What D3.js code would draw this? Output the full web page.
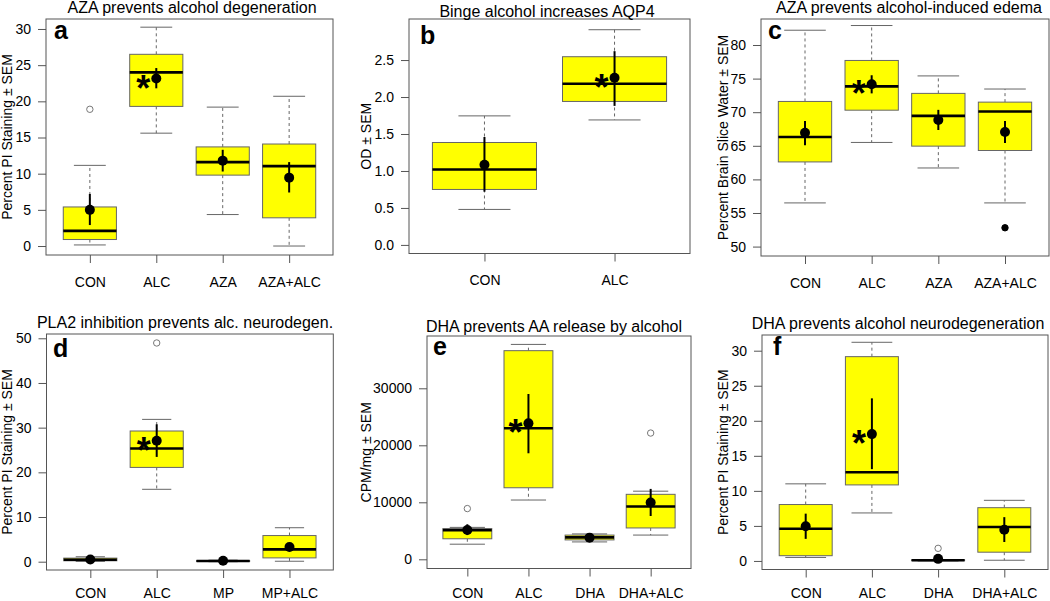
<!DOCTYPE html>
<html>
<head>
<meta charset="utf-8">
<script src="https://cdn.jsdelivr.net/npm/d3@7"></script>
<style>
  html, body { margin: 0; padding: 0; background: #ffffff; }
  svg { display: block; }
</style>
</head>
<body>
<svg id="chart" width="1050" height="601"></svg>
<script>
// ---------------- DATA ----------------
// Panel a: AZA prevents alcohol degeneration
const aCategories = ["CON", "ALC", "AZA", "AZA+ALC"];
const aLow    = [0.15, 15.6, 4.35, 0.0];
const aQ1     = [0.9, 19.3, 9.8, 3.9];
const aMedian = [2.1, 24.0, 11.6, 11.05];
const aQ3     = [5.4, 26.5, 13.7, 14.1];
const aHigh   = [11.15, 30.25, 19.2, 20.7];
const aMean   = [5.0, 23.15, 11.8, 9.45];
const aSemLo  = [2.9, 21.8, 10.3, 7.4];
const aSemHi  = [7.2, 24.6, 13.3, 11.6];
const aOutliers = [{cat: "CON", value: 18.9, filled: false}];
const aTicks  = [0, 5, 10, 15, 20, 25, 30];

// Panel b: Binge alcohol increases AQP4
const bCategories = ["CON", "ALC"];
const bLow    = [0.48, 1.69];
const bQ1     = [0.75, 1.94];
const bMedian = [1.02, 2.18];
const bQ3     = [1.385, 2.545];
const bHigh   = [1.745, 2.91];
const bMean   = [1.085, 2.26];
const bSemLo  = [0.72, 1.88];
const bSemHi  = [1.46, 2.62];
const bOutliers = [];
const bTicks  = [0, 0.5, 1.0, 1.5, 2.0, 2.5];

// Panel c: AZA prevents alcohol-induced edema
const cCategories = ["CON", "ALC", "AZA", "AZA+ALC"];
const cLow    = [56.5, 65.5, 61.7, 56.5];
const cQ1     = [62.6, 70.3, 64.95, 64.3];
const cMedian = [66.3, 73.85, 69.45, 70.1];
const cQ3     = [71.6, 77.7, 72.8, 71.5];
const cHigh   = [82.2, 82.9, 75.4, 73.45];
const cMean   = [66.95, 74.15, 68.85, 67.05];
const cSemLo  = [65.1, 72.8, 67.35, 65.4];
const cSemHi  = [68.7, 75.5, 70.35, 68.7];
const cOutliers = [{cat: "AZA+ALC", value: 52.8, filled: true}];
const cTicks  = [50, 55, 60, 65, 70, 75, 80];

// Panel d: PLA2 inhibition prevents alc. neurodegen.
const dCategories = ["CON", "ALC", "MP", "MP+ALC"];
const dLow    = [0.05, 16.2, 0.0, 0.1];
const dQ1     = [0.2, 21.1, 0.05, 0.85];
const dMedian = [0.45, 25.35, 0.15, 2.75];
const dQ3     = [0.8, 29.25, 0.25, 5.85];
const dHigh   = [1.1, 31.85, 0.35, 7.6];
const dMean   = [0.5, 27.05, 0.2, 3.3];
const dSemLo  = [0.3, 23.45, 0.1, 2.5];
const dSemHi  = [0.7, 30.75, 0.3, 4.1];
const dOutliers = [{cat: "ALC", value: 48.95, filled: false}];
const dTicks  = [0, 10, 20, 30, 40, 50];

// Panel e: DHA prevents AA release by alcohol
const eCategories = ["CON", "ALC", "DHA", "DHA+ALC"];
const eLow    = [2650, 10400, 3050, 4250];
const eQ1     = [3600, 12550, 3400, 5500];
const eMedian = [5100, 23000, 3850, 9250];
const eQ3     = [5400, 36600, 4250, 11400];
const eHigh   = [5600, 37700, 4450, 11950];
const eMean   = [5150, 23850, 3800, 9950];
const eSemLo  = [4250, 18600, 3500, 7600];
const eSemHi  = [6150, 29000, 4100, 12350];
const eOutliers = [{cat: "CON", value: 8900, filled: false}, {cat: "DHA+ALC", value: 22150, filled: false}];
const eTicks  = [0, 10000, 20000, 30000];

// Panel f: DHA prevents alcohol neurodegeneration
const fCategories = ["CON", "ALC", "DHA", "DHA+ALC"];
const fLow    = [0.5, 6.85, 0.0, 0.1];
const fQ1     = [0.75, 10.85, 0.05, 1.25];
const fMedian = [4.6, 12.65, 0.1, 4.85];
const fQ3     = [8.05, 29.15, 0.15, 7.6];
const fHigh   = [11.0, 31.2, 0.15, 8.65];
const fMean   = [4.95, 18.1, 0.3, 4.45];
const fSemLo  = [3.15, 13.1, 0.2, 2.7];
const fSemHi  = [6.75, 23.2, 0.4, 6.25];
const fOutliers = [{cat: "DHA", value: 1.8, filled: false}];
const fTicks  = [0, 5, 10, 15, 20, 25, 30];

const starCategory = "ALC";

// ---------------- LAYOUT / STYLE ----------------
const FONT = "'Liberation Sans', Arial, Helvetica, sans-serif";

function pack(cats, low, q1, med, q3, high, mean, semLo, semHi) {
  return cats.map((c, i) => ({cat: c, low: low[i], q1: q1[i], med: med[i], q3: q3[i],
    high: high[i], mean: mean[i], semLo: semLo[i], semHi: semHi[i]}));
}

const panels = [
  { letter: "a", title: "AZA prevents alcohol degeneration", ylabel: "Percent PI Staining \u00b1 SEM",
    cats: aCategories, rows: pack(aCategories, aLow, aQ1, aMedian, aQ3, aHigh, aMean, aSemLo, aSemHi),
    outliers: aOutliers, ticks: aTicks, fmt: d3.format("d"),
    left: 46, right: 333, top: 19, bottom: 255, yDomain: [-1.24, 31.38], xPad: 14,
    titleX: 192, titleY: 12.7, letterX: 54, letterY: 39, ylabX: 12, cap: 0.6 },
  { letter: "b", title: "Binge alcohol increases AQP4", ylabel: "OD \u00b1 SEM",
    cats: bCategories, rows: pack(bCategories, bLow, bQ1, bMedian, bQ3, bHigh, bMean, bSemLo, bSemHi),
    outliers: bOutliers, ticks: bTicks, fmt: d3.format(".1f"),
    left: 409, right: 690, top: 19, bottom: 253.5, yDomain: [-0.116, 3.055], xPad: 14,
    titleX: 547, titleY: 16.5, letterX: 420, letterY: 44, ylabX: 371, cap: 0.5 },
  { letter: "c", title: "AZA prevents alcohol-induced edema", ylabel: "Percent Brain Slice Water \u00b1 SEM",
    cats: cCategories, rows: pack(cCategories, cLow, cQ1, cMedian, cQ3, cHigh, cMean, cSemLo, cSemHi),
    outliers: cOutliers, ticks: cTicks, fmt: d3.format("d"),
    left: 761, right: 1049, top: 19, bottom: 256, yDomain: [48.6, 83.87], xPad: 14,
    titleX: 909, titleY: 12.7, letterX: 768, letterY: 39, ylabX: 728, cap: 0.78 },
  { letter: "d", title: "PLA2 inhibition prevents alc. neurodegen.", ylabel: "Percent PI Staining \u00b1 SEM",
    cats: dCategories, rows: pack(dCategories, dLow, dQ1, dMedian, dQ3, dHigh, dMean, dSemLo, dSemHi),
    outliers: dOutliers, ticks: dTicks, fmt: d3.format("d"),
    left: 46.5, right: 333.3, top: 334, bottom: 570, yDomain: [-1.86, 50.96], xPad: 10.5,
    titleX: 185, titleY: 327.5, letterX: 53, letterY: 357, ylabX: 12, cap: 0.55 },
  { letter: "e", title: "DHA prevents AA release by alcohol", ylabel: "CPM/mg \u00b1 SEM",
    cats: eCategories, rows: pack(eCategories, eLow, eQ1, eMedian, eQ3, eHigh, eMean, eSemLo, eSemHi),
    outliers: eOutliers, ticks: eTicks, fmt: d3.format("d"),
    left: 427, right: 691, top: 336, bottom: 568.5, yDomain: [-1614, 39175], xPad: 12,
    titleX: 554, titleY: 331.5, letterX: 433, letterY: 355, ylabX: 371, cap: 0.72 },
  { letter: "f", title: "DHA prevents alcohol neurodegeneration", ylabel: "Percent PI Staining \u00b1 SEM",
    cats: fCategories, rows: pack(fCategories, fLow, fQ1, fMedian, fQ3, fHigh, fMean, fSemLo, fSemHi),
    outliers: fOutliers, ticks: fTicks, fmt: d3.format("d"),
    left: 762, right: 1048, top: 335, bottom: 569.5, yDomain: [-1.22, 32.24], xPad: 11,
    titleX: 898, titleY: 329.3, letterX: 773, letterY: 355, ylabX: 728, cap: 0.77 }
];

const svg = d3.select("#chart");
const FRAME = "#555555";
const BOXLINE = "#666666";

function drawPanel(p) {
  const g = svg.append("g");
  const n = p.cats.length;
  const x = d3.scalePoint().domain(p.cats).range([p.left, p.right]).padding(0.5 + 0.04 * n);
  const y = d3.scaleLinear().domain(p.yDomain).range([p.bottom, p.top]);
  const step = x.step();
  const bw = 0.8 * step;
  const cw = p.cap * bw;

  // y axis
  const ya = g.append("g").attr("transform", `translate(${p.left},0)`)
    .call(d3.axisLeft(y).tickValues(p.ticks).tickFormat(p.fmt).tickSize(8).tickPadding(7));
  ya.select(".domain").remove();
  ya.selectAll("line").attr("stroke", FRAME);
  ya.selectAll("text").attr("font-family", FONT).attr("font-size", 14).attr("fill", "#000");

  // x axis
  const xa = g.append("g").attr("transform", `translate(0,${p.bottom})`)
    .call(d3.axisBottom(x).tickSize(8).tickPadding(p.xPad));
  xa.select(".domain").remove();
  xa.selectAll("line").attr("stroke", FRAME);
  xa.selectAll("text").attr("font-family", FONT).attr("font-size", 14).attr("fill", "#000");

  // boxes and whiskers
  const bx = g.append("g");
  p.rows.forEach(r => {
    const cx = x(r.cat);
    bx.append("line").attr("x1", cx).attr("x2", cx).attr("y1", y(r.q3)).attr("y2", y(r.high))
      .attr("stroke", BOXLINE).attr("stroke-dasharray", "3,3");
    bx.append("line").attr("x1", cx).attr("x2", cx).attr("y1", y(r.q1)).attr("y2", y(r.low))
      .attr("stroke", BOXLINE).attr("stroke-dasharray", "3,3");
    bx.append("line").attr("x1", cx - cw / 2).attr("x2", cx + cw / 2).attr("y1", y(r.high)).attr("y2", y(r.high))
      .attr("stroke", BOXLINE);
    bx.append("line").attr("x1", cx - cw / 2).attr("x2", cx + cw / 2).attr("y1", y(r.low)).attr("y2", y(r.low))
      .attr("stroke", BOXLINE);
    bx.append("rect").attr("x", cx - bw / 2).attr("width", bw)
      .attr("y", y(r.q3)).attr("height", Math.max(0.5, y(r.q1) - y(r.q3)))
      .attr("fill", "#ffff00").attr("stroke", BOXLINE).attr("stroke-width", 1);
    bx.append("line").attr("x1", cx - bw / 2).attr("x2", cx + bw / 2).attr("y1", y(r.med)).attr("y2", y(r.med))
      .attr("stroke", "#000").attr("stroke-width", 2.6);
  });

  // outliers
  g.selectAll(".outlier").data(p.outliers).enter().append("circle")
    .attr("cx", d => x(d.cat)).attr("cy", d => y(d.value))
    .attr("r", 3.2)
    .attr("fill", d => d.filled ? "#000" : "#fff")
    .attr("stroke", d => d.filled ? "#000" : "#777")
    .attr("stroke-width", 1);

  // SEM bars and means
  g.selectAll(".sem").data(p.rows).enter().append("line")
    .attr("x1", d => x(d.cat)).attr("x2", d => x(d.cat))
    .attr("y1", d => y(d.semLo)).attr("y2", d => y(d.semHi))
    .attr("stroke", "#000").attr("stroke-width", 2);
  g.selectAll(".mean").data(p.rows).enter().append("circle")
    .attr("cx", d => x(d.cat)).attr("cy", d => y(d.mean)).attr("r", 5)
    .attr("fill", "#000");

  // significance star
  const sr = p.rows.find(r => r.cat === starCategory);
  if (sr) {
    g.append("text").attr("x", x(sr.cat) - 13).attr("y", y(sr.mean) + 22)
      .attr("text-anchor", "middle").attr("font-family", FONT).attr("font-weight", "bold")
      .attr("font-size", 36).attr("fill", "#000").text("*");
  }

  // frame
  g.append("rect").attr("x", p.left).attr("y", p.top)
    .attr("width", p.right - p.left).attr("height", p.bottom - p.top)
    .attr("fill", "none").attr("stroke", FRAME).attr("stroke-width", 1);

  // title
  g.append("text").attr("x", p.titleX).attr("y", p.titleY).attr("text-anchor", "middle")
    .attr("font-family", FONT).attr("font-size", 16).attr("fill", "#000").text(p.title);

  // panel letter
  g.append("text").attr("x", p.letterX).attr("y", p.letterY)
    .attr("font-family", FONT).attr("font-weight", "bold").attr("font-size", 25)
    .attr("fill", "#000").text(p.letter);

  // y label
  const cy = (p.top + p.bottom) / 2;
  g.append("text").attr("transform", `translate(${p.ylabX},${cy}) rotate(-90)`)
    .attr("text-anchor", "middle").attr("font-family", FONT).attr("font-size", 14)
    .attr("fill", "#000").text(p.ylabel);
}

panels.forEach(drawPanel);
</script>
</body>
</html>
